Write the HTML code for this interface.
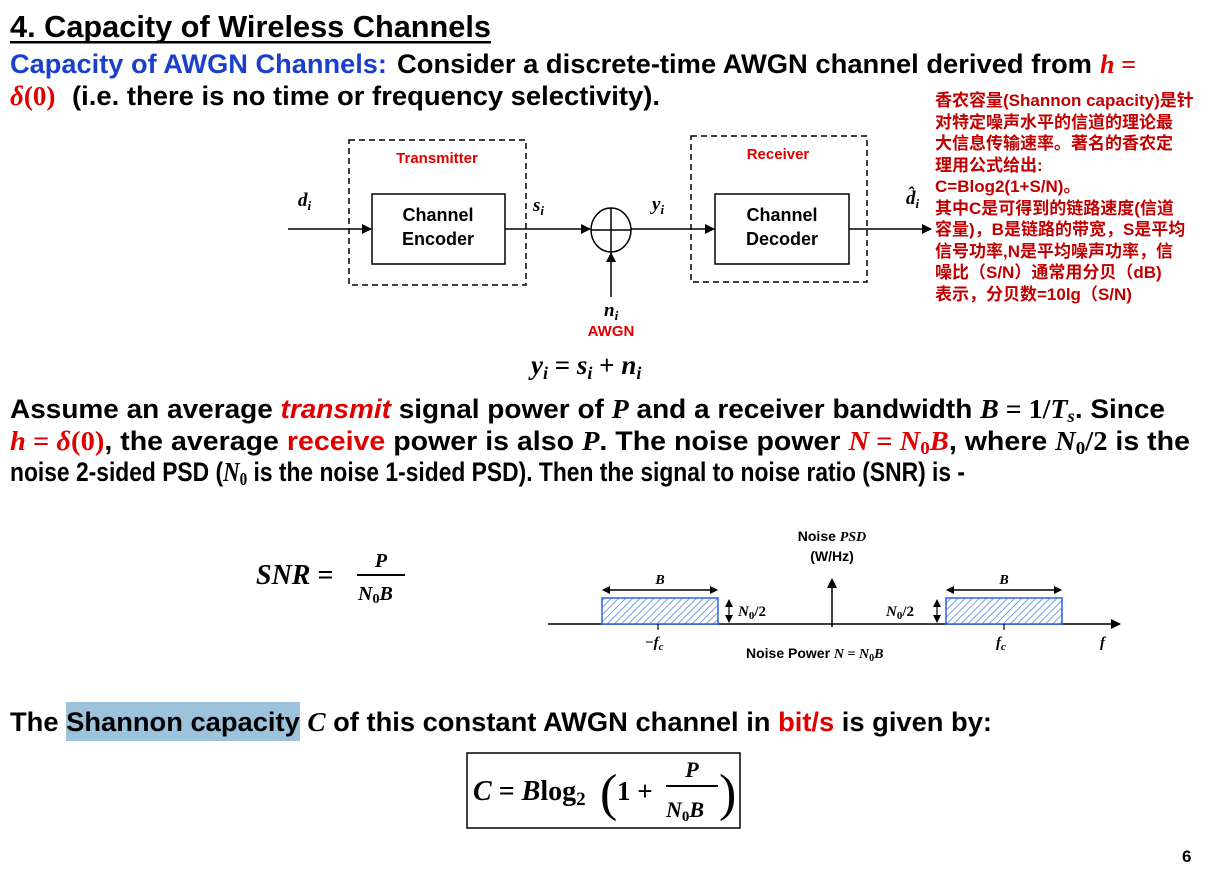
<!DOCTYPE html>
<html><head><meta charset="utf-8"><style>
html,body{margin:0;padding:0;background:#fff;width:1214px;height:872px;overflow:hidden}
svg{display:block}
.s{font-family:"Liberation Sans Narrow","Liberation Sans",sans-serif;font-weight:bold}
.d{font-family:"Liberation Sans",sans-serif;font-weight:bold}
.m{font-family:"Liberation Serif",serif;font-weight:bold;font-style:italic}
.mu{font-family:"Liberation Serif",serif;font-weight:bold}
.cn{font-family:"Liberation Sans","Noto Sans CJK SC",sans-serif;font-weight:bold;fill:#c00000;font-size:17px}
</style></head><body>
<svg width="1214" height="872" xmlns="http://www.w3.org/2000/svg">
<defs>
<marker id="a" markerWidth="10" markerHeight="10" refX="9" refY="5" orient="auto" markerUnits="userSpaceOnUse"><path d="M0,0 L10,5 L0,10 z" fill="#000"/></marker>
<marker id="b" markerWidth="8" markerHeight="8" refX="7" refY="4" orient="auto-start-reverse" markerUnits="userSpaceOnUse"><path d="M0,0 L8,4 L0,8 z" fill="#000"/></marker>
<pattern id="h" width="5" height="5" patternUnits="userSpaceOnUse" patternTransform="rotate(45)"><rect width="5" height="5" fill="#fff"/><line x1="0" y1="0" x2="0" y2="5" stroke="#7a9fe0" stroke-width="2"/></pattern>
</defs>
<text x="10" y="37" class="s" font-size="31" textLength="481" lengthAdjust="spacingAndGlyphs">4. Capacity of Wireless Channels</text>
<rect x="10" y="41" width="481" height="2.5" fill="#000"/>
<text x="10" y="73" class="s" font-size="27" fill="#1a3fcc" textLength="377" lengthAdjust="spacingAndGlyphs">Capacity of AWGN Channels:</text>
<text x="397" y="73" class="s" font-size="27" textLength="695" lengthAdjust="spacingAndGlyphs">Consider a discrete-time AWGN channel derived from</text>
<text x="1100" y="73" class="m" font-size="26" fill="#e00000">h =</text>
<text x="10" y="105" class="mu" font-size="27" fill="#e00000"><tspan font-style="italic">δ</tspan>(0)</text>
<text x="72" y="105" class="s" font-size="27" textLength="588" lengthAdjust="spacingAndGlyphs">(i.e. there is no time or frequency selectivity).</text>

<text class="cn" x="935">
<tspan x="935" y="106">香农容量(Shannon capacity)是针</tspan>
<tspan x="935" y="128">对特定噪声水平的信道的理论最</tspan>
<tspan x="935" y="149">大信息传输速率。著名的香农定</tspan>
<tspan x="935" y="171">理用公式给出:</tspan>
<tspan x="935" y="192">C=Blog2(1+S/N)。</tspan>
<tspan x="935" y="214">其中C是可得到的链路速度(信道</tspan>
<tspan x="935" y="235">容量)，B是链路的带宽，S是平均</tspan>
<tspan x="935" y="257">信号功率,N是平均噪声功率，信</tspan>
<tspan x="935" y="278">噪比（S/N）通常用分贝（dB)</tspan>
<tspan x="935" y="300">表示，分贝数=10lg（S/N)</tspan>
</text>

<rect x="349" y="140" width="177" height="145" fill="none" stroke="#000" stroke-width="1.5" stroke-dasharray="6,4"/>
<rect x="691" y="136" width="176" height="146" fill="none" stroke="#000" stroke-width="1.5" stroke-dasharray="6,4"/>
<text x="437" y="163" class="d" font-size="15" fill="#e00000" text-anchor="middle">Transmitter</text>
<text x="778" y="159" class="d" font-size="15" fill="#e00000" text-anchor="middle">Receiver</text>
<rect x="372" y="194" width="133" height="70" fill="#fff" stroke="#000" stroke-width="1.5"/>
<rect x="715" y="194" width="134" height="70" fill="#fff" stroke="#000" stroke-width="1.5"/>
<text x="438" y="221" class="d" font-size="18" text-anchor="middle">Channel</text>
<text x="438" y="245" class="d" font-size="18" text-anchor="middle">Encoder</text>
<text x="782" y="221" class="d" font-size="18" text-anchor="middle">Channel</text>
<text x="782" y="245" class="d" font-size="18" text-anchor="middle">Decoder</text>
<line x1="288" y1="229" x2="371" y2="229" stroke="#000" stroke-width="1.5" marker-end="url(#a)"/>
<line x1="505" y1="229" x2="590" y2="229" stroke="#000" stroke-width="1.5" marker-end="url(#a)"/>
<ellipse cx="611" cy="230" rx="20" ry="22" fill="none" stroke="#000" stroke-width="1.5"/>
<line x1="591" y1="230" x2="631" y2="230" stroke="#000" stroke-width="1.5"/>
<line x1="611" y1="208" x2="611" y2="252" stroke="#000" stroke-width="1.5"/>
<line x1="631" y1="229" x2="714" y2="229" stroke="#000" stroke-width="1.5" marker-end="url(#a)"/>
<line x1="849" y1="229" x2="931" y2="229" stroke="#000" stroke-width="1.5" marker-end="url(#a)"/>
<line x1="611" y1="297" x2="611" y2="253" stroke="#000" stroke-width="1.5" marker-end="url(#a)"/>
<text x="298" y="206" class="m" font-size="19">d<tspan font-size="13" dy="4">i</tspan></text>
<text x="533" y="211" class="m" font-size="19">s<tspan font-size="13" dy="4">i</tspan></text>
<text x="652" y="210" class="m" font-size="19">y<tspan font-size="13" dy="4">i</tspan></text>
<text x="906" y="204" class="m" font-size="19">d̂<tspan font-size="13" dy="4">i</tspan></text>
<text x="604" y="316" class="m" font-size="19">n<tspan font-size="13" dy="4">i</tspan></text>
<text x="611" y="336" class="d" font-size="15" fill="#e00000" text-anchor="middle">AWGN</text>
<text x="531" y="374" class="m" font-size="27">y<tspan font-size="18" dy="5">i</tspan><tspan dy="-5" font-style="normal"> = </tspan>s<tspan font-size="18" dy="5">i</tspan><tspan dy="-5" font-style="normal"> + </tspan>n<tspan font-size="18" dy="5">i</tspan></text>

<text x="10" y="418" class="s" font-size="27" textLength="1155" lengthAdjust="spacingAndGlyphs">Assume an average <tspan fill="#e00000" font-style="italic">transmit</tspan> signal power of <tspan font-family="Liberation Serif" font-style="italic">P</tspan> and a receiver bandwidth <tspan font-family="Liberation Serif" font-style="italic">B</tspan><tspan font-family="Liberation Serif"> = 1/</tspan><tspan font-family="Liberation Serif" font-style="italic">T<tspan font-size="18" dy="4">s</tspan></tspan><tspan dy="-4">. Since</tspan></text>
<text x="10" y="450" class="s" font-size="27" textLength="1180" lengthAdjust="spacingAndGlyphs"><tspan fill="#e00000" font-family="Liberation Serif"><tspan font-style="italic">h</tspan> = <tspan font-style="italic">δ</tspan>(0)</tspan>, the average <tspan fill="#e00000">receive</tspan> power is also <tspan font-family="Liberation Serif" font-style="italic">P</tspan>. The noise power <tspan fill="#e00000" font-family="Liberation Serif" font-style="italic">N <tspan font-style="normal">=</tspan> N<tspan font-size="18" dy="4" font-style="normal">0</tspan><tspan dy="-4">B</tspan></tspan>, where <tspan font-family="Liberation Serif" font-style="italic">N<tspan font-size="18" dy="4" font-style="normal">0</tspan><tspan dy="-4" font-style="normal">/2</tspan></tspan> is the</text>
<text x="10" y="481" class="s" font-size="27" textLength="955" lengthAdjust="spacingAndGlyphs">noise 2-sided PSD (<tspan font-family="Liberation Serif" font-style="italic">N<tspan font-size="18" dy="4" font-style="normal">0</tspan></tspan><tspan dy="-4"> is the noise 1-sided PSD). Then the signal to noise ratio (SNR) is -</tspan></text>

<text x="256" y="584" class="m" font-size="28">SNR <tspan font-style="normal">=</tspan></text>
<text x="381" y="567" class="m" font-size="20" text-anchor="middle">P</text>
<line x1="357" y1="575" x2="405" y2="575" stroke="#000" stroke-width="2"/>
<text x="358" y="600" class="m" font-size="20">N<tspan font-size="14" dy="3" font-style="normal">0</tspan><tspan dy="-3">B</tspan></text>

<line x1="548" y1="624" x2="1120" y2="624" stroke="#000" stroke-width="1.5" marker-end="url(#a)"/>
<line x1="832" y1="627" x2="832" y2="579" stroke="#000" stroke-width="1.5" marker-end="url(#a)"/>
<rect x="602" y="598" width="116" height="26" fill="url(#h)" stroke="#2a62e8" stroke-width="1.5"/>
<rect x="946" y="598" width="116" height="26" fill="url(#h)" stroke="#2a62e8" stroke-width="1.5"/>
<line x1="603" y1="590" x2="717" y2="590" stroke="#000" stroke-width="1.5" marker-start="url(#b)" marker-end="url(#b)"/>
<line x1="947" y1="590" x2="1061" y2="590" stroke="#000" stroke-width="1.5" marker-start="url(#b)" marker-end="url(#b)"/>
<line x1="729" y1="600" x2="729" y2="622" stroke="#000" stroke-width="1.2" marker-start="url(#b)" marker-end="url(#b)"/>
<line x1="937" y1="600" x2="937" y2="622" stroke="#000" stroke-width="1.2" marker-start="url(#b)" marker-end="url(#b)"/>
<line x1="658" y1="624" x2="658" y2="630" stroke="#000" stroke-width="1.2"/>
<line x1="1004" y1="624" x2="1004" y2="630" stroke="#000" stroke-width="1.2"/>
<text x="660" y="584" class="m" font-size="14" text-anchor="middle">B</text>
<text x="1004" y="584" class="m" font-size="14" text-anchor="middle">B</text>
<text x="738" y="616" class="m" font-size="15">N<tspan font-size="11" dy="3" font-style="normal">0</tspan><tspan dy="-3" font-style="normal">/2</tspan></text>
<text x="886" y="616" class="m" font-size="15">N<tspan font-size="11" dy="3" font-style="normal">0</tspan><tspan dy="-3" font-style="normal">/2</tspan></text>
<text x="645" y="647" class="m" font-size="15"><tspan font-style="normal">−</tspan>f<tspan font-size="11" dy="3">c</tspan></text>
<text x="996" y="647" class="m" font-size="15">f<tspan font-size="11" dy="3">c</tspan></text>
<text x="1100" y="647" class="m" font-size="15">f</text>
<text x="832" y="541" class="d" font-size="14" text-anchor="middle">Noise <tspan font-family="Liberation Serif" font-style="italic">PSD</tspan></text>
<text x="832" y="561" class="d" font-size="14" text-anchor="middle">(W/Hz)</text>
<text x="746" y="658" class="d" font-size="14">Noise Power <tspan font-family="Liberation Serif" font-style="italic">N <tspan font-style="normal">=</tspan> N<tspan font-size="10" dy="3" font-style="normal">0</tspan><tspan dy="-3">B</tspan></tspan></text>

<rect x="66" y="702" width="234" height="39" fill="#9dc3dc"/>
<text x="10" y="731" class="s" font-size="27" textLength="982" lengthAdjust="spacingAndGlyphs">The Shannon capacity <tspan font-family="Liberation Serif" font-style="italic">C</tspan> of this constant AWGN channel in <tspan fill="#e00000">bit/s</tspan> is given by:</text>
<rect x="467" y="753" width="273" height="75" fill="none" stroke="#000" stroke-width="1.5"/>
<text x="473" y="800" class="m" font-size="28">C <tspan font-style="normal">=</tspan> B<tspan font-style="normal">log</tspan><tspan font-size="19" dy="5" font-style="normal">2</tspan></text>
<text x="600" y="810" font-family="Liberation Serif" font-size="52">(</text>
<text x="617" y="800" class="mu" font-size="27">1 +</text>
<text x="692" y="777" class="m" font-size="22" text-anchor="middle">P</text>
<line x1="666" y1="786" x2="718" y2="786" stroke="#000" stroke-width="2"/>
<text x="666" y="817" class="m" font-size="22">N<tspan font-size="15" dy="4" font-style="normal">0</tspan><tspan dy="-4">B</tspan></text>
<text x="719" y="810" font-family="Liberation Serif" font-size="52">)</text>

<text x="1182" y="862" class="d" font-size="17">6</text>
</svg>
</body></html>
